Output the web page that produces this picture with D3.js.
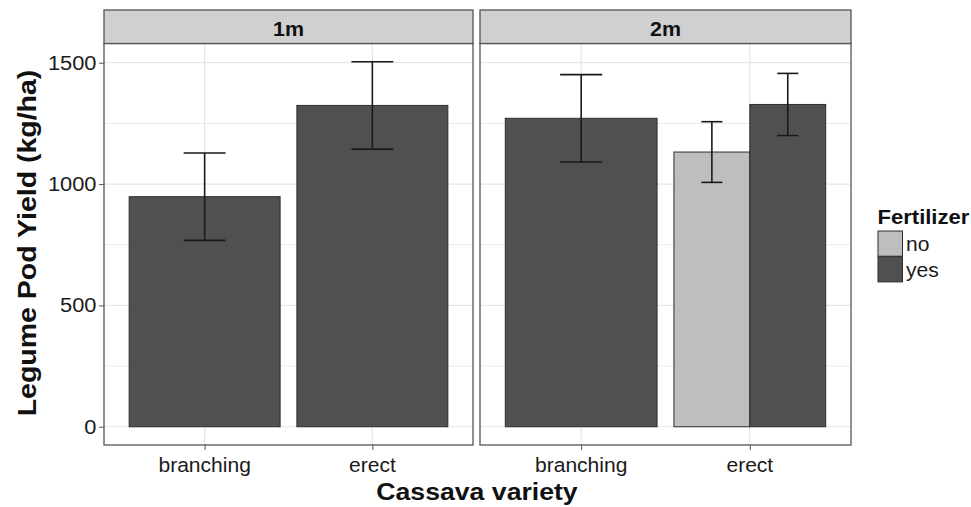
<!DOCTYPE html>
<html>
<head>
<meta charset="utf-8">
<script src="https://cdn.jsdelivr.net/npm/d3@7"></script>
<style>
    body { margin: 0; background: #fff; }
    text { font-family: "Liberation Sans", Arial, sans-serif; }
</style>
</head>
<body>
<svg id="chart" width="971" height="507"></svg>
<script>
// data
var panels = ['1m', '2m'];
var varieties = ['branching', 'erect'];
var fertLevels = ['no', 'yes'];
var yTicks = [0, 500, 1000, 1500];

var rowPanel = ['1m', '1m', '2m', '2m', '2m'];
var rowVariety = ['branching', 'erect', 'branching', 'erect', 'erect'];
var rowFert = ['yes', 'yes', 'yes', 'no', 'yes'];
var yieldMean = [948, 1324, 1271, 1132, 1328];
var yieldSE = [180, 180, 180, 125, 128];

var fillColor = {no: '#bebebe', yes: '#505050'};

var rows = rowPanel.map(function(p, i) {
    return {panel: p, variety: rowVariety[i], fert: rowFert[i], mean: yieldMean[i], se: yieldSE[i]};
});

var svg = d3.select('#chart'),
    panelX = {'1m': [104, 473], '2m': [480, 851]},
    stripTop = 10,
    panelTop = 43.5,
    panelBottom = 445;

var yMax = d3.max(rows, function(d) { return d.mean + d.se; }),
    yPad = yMax * 0.05;
var y = d3.scaleLinear().domain([-yPad, yMax + yPad]).range([panelBottom, panelTop]);

// text is a bit wider than Arial in the original, so stretch along the baseline
var addText = function(g, x, y, str, opts) {
    var t = g.append('text')
        .attr('transform', 'translate(' + x + ',' + y + ')' + (opts.rotate ? ' rotate(' + opts.rotate + ')' : '') + ' scale(' + (opts.sx || 1) + ',1)')
        .attr('text-anchor', opts.anchor || 'middle')
        .attr('font-size', opts.size)
        .attr('font-weight', opts.bold ? 'bold' : 'normal')
        .attr('fill', opts.color || '#111')
        .text(str);
    if (opts.dy) t.attr('dy', opts.dy);
    return t;
};

panels.forEach(function(p) {
    var x = d3.scaleLinear().domain([0.4, 2.6]).range(panelX[p]);
    var g = svg.append('g');
    var x0 = panelX[p][0], x1 = panelX[p][1];

    // grid (minor then major)
    var minor = [250, 750, 1250];
    g.selectAll('.minor').data(minor).enter().append('line')
        .attr('x1', x0).attr('x2', x1)
        .attr('y1', function(d) { return y(d); }).attr('y2', function(d) { return y(d); })
        .attr('stroke', '#ebebeb').attr('stroke-width', 1);
    g.selectAll('.major').data(yTicks).enter().append('line')
        .attr('x1', x0).attr('x2', x1)
        .attr('y1', function(d) { return y(d); }).attr('y2', function(d) { return y(d); })
        .attr('stroke', '#e6e6e6').attr('stroke-width', 1.2);
    g.selectAll('.vmajor').data(varieties).enter().append('line')
        .attr('x1', function(d, i) { return x(i + 1); }).attr('x2', function(d, i) { return x(i + 1); })
        .attr('y1', panelTop).attr('y2', panelBottom)
        .attr('stroke', '#e6e6e6').attr('stroke-width', 1.2);

    // bars, dodged within each variety
    var pRows = rows.filter(function(d) { return d.panel === p; });
    pRows.forEach(function(d) {
        var group = pRows.filter(function(r) { return r.variety === d.variety; });
        var n = group.length, k = group.indexOf(d);
        var c = varieties.indexOf(d.variety) + 1;
        var w = 0.9 / n;
        d.left = c - 0.45 + k * w;
        d.right = d.left + w;
        d.center = d.left + w / 2;
        d.ebw = 0.25 / n;
    });

    g.selectAll('.bar').data(pRows).enter().append('rect')
        .attr('x', function(d) { return x(d.left); })
        .attr('width', function(d) { return x(d.right) - x(d.left); })
        .attr('y', function(d) { return y(d.mean); })
        .attr('height', function(d) { return y(0) - y(d.mean); })
        .attr('fill', function(d) { return fillColor[d.fert]; })
        .attr('stroke', '#2e2e2e').attr('stroke-width', 1);

    var eb = g.selectAll('.eb').data(pRows).enter().append('g').attr('stroke', '#1a1a1a').attr('stroke-width', 1.6);
    eb.append('line')
        .attr('x1', function(d) { return x(d.center); }).attr('x2', function(d) { return x(d.center); })
        .attr('y1', function(d) { return y(d.mean - d.se); }).attr('y2', function(d) { return y(d.mean + d.se); });
    eb.append('line')
        .attr('x1', function(d) { return x(d.center - d.ebw / 2); }).attr('x2', function(d) { return x(d.center + d.ebw / 2); })
        .attr('y1', function(d) { return y(d.mean + d.se); }).attr('y2', function(d) { return y(d.mean + d.se); });
    eb.append('line')
        .attr('x1', function(d) { return x(d.center - d.ebw / 2); }).attr('x2', function(d) { return x(d.center + d.ebw / 2); })
        .attr('y1', function(d) { return y(d.mean - d.se); }).attr('y2', function(d) { return y(d.mean - d.se); });

    // panel border and strip
    g.append('rect').attr('x', x0).attr('y', panelTop).attr('width', x1 - x0).attr('height', panelBottom - panelTop)
        .attr('fill', 'none').attr('stroke', '#555').attr('stroke-width', 1.3);
    g.append('rect').attr('x', x0).attr('y', stripTop).attr('width', x1 - x0).attr('height', panelTop - stripTop)
        .attr('fill', '#d0d0d0').attr('stroke', '#555').attr('stroke-width', 1.3);
    addText(g, (x0 + x1) / 2, 36, p, {size: 21, bold: true, sx: 1.02});

    // x axis ticks + labels
    var xAxis = g.append('g').attr('transform', 'translate(0,' + panelBottom + ')')
        .call(d3.axisBottom(x).tickValues([1, 2]).tickSize(5).tickFormat(''));
    xAxis.select('.domain').remove();
    xAxis.selectAll('line').attr('stroke', '#555');
    varieties.forEach(function(v, i) {
        addText(g, x(i + 1), 471.5, v, {size: 19.5, color: '#1a1a1a', sx: 1.08});
    });
});

// y axis on first panel
var yAxis = svg.append('g').attr('transform', 'translate(' + panelX['1m'][0] + ',0)')
    .call(d3.axisLeft(y).tickValues(yTicks).tickSize(5).tickFormat(''));
yAxis.select('.domain').remove();
yAxis.selectAll('line').attr('stroke', '#555');
yTicks.forEach(function(t) {
    addText(svg, 96.5, y(t), String(t), {size: 19.5, anchor: 'end', dy: '0.35em', color: '#1a1a1a', sx: 1.12});
});

// axis titles
addText(svg, 477, 500, 'Cassava variety', {size: 24, bold: true, sx: 1.11});
addText(svg, 35.5, 243, 'Legume Pod Yield (kg/ha)', {size: 25, bold: true, rotate: -90, sx: 1.14});

// legend
var leg = svg.append('g');
addText(leg, 877.5, 224, 'Fertilizer', {size: 21, bold: true, anchor: 'start', sx: 1.05});
leg.selectAll('.key').data(fertLevels).enter().append('rect')
    .attr('x', 878).attr('y', function(d, i) { return 231 + i * 25.7; })
    .attr('width', 24.5).attr('height', 25.2)
    .attr('fill', function(d) { return fillColor[d]; })
    .attr('stroke', '#2e2e2e').attr('stroke-width', 1);
fertLevels.forEach(function(f, i) {
    addText(leg, 906, 251 + i * 25.7, f, {size: 19.5, anchor: 'start', color: '#1a1a1a', sx: 1.08});
});
</script>
</body>
</html>
